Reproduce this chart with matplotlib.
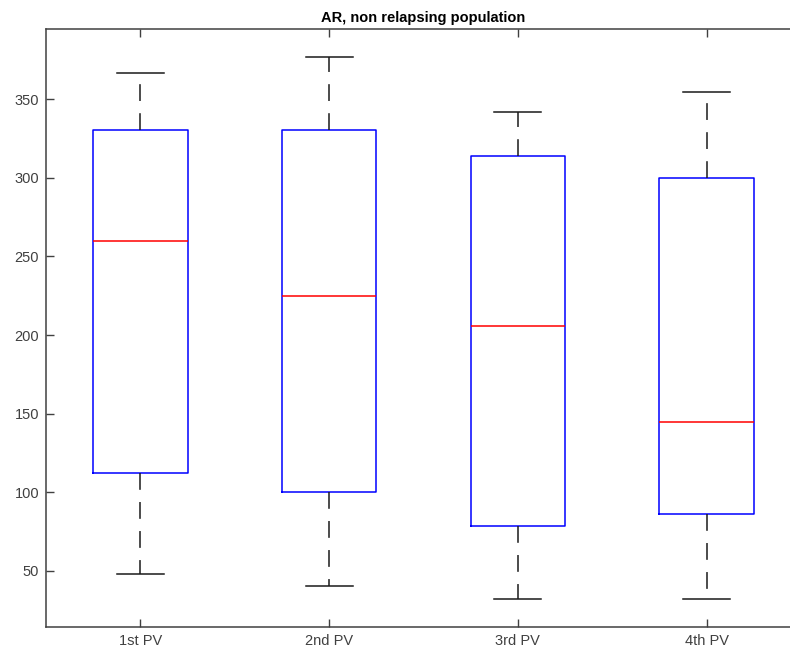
import matplotlib
matplotlib.use("Agg")
import matplotlib.pyplot as plt

plt.rcParams['font.family'] = ['Liberation Sans', 'DejaVu Sans']

labels = ["1st PV", "2nd PV", "3rd PV", "4th PV"]
whisker_low = [48, 40.5, 32, 32]
q1 = [112.5, 100.5, 78.5, 86]
median = [260, 225, 205.5, 145]
q3 = [330, 330, 314, 300]
whisker_high = [366.5, 376.5, 342, 354.5]

stats = []
for i in range(len(labels)):
    stats.append(dict(label=labels[i], whislo=whisker_low[i], q1=q1[i],
                      med=median[i], q3=q3[i], whishi=whisker_high[i], fliers=[]))

W, H = 790, 655
fig = plt.figure(figsize=(W / 100, H / 100), dpi=100)
ax = fig.add_axes([46 / W, (H - 627) / H, (801 - 46) / W, (627 - 29) / H])

ax.bxp(stats, widths=0.5, showfliers=False,
       boxprops=dict(color='#0000ff', linewidth=1.1),
       medianprops=dict(color='#ff0000', linewidth=1.1),
       whiskerprops=dict(color='#1a1a1a', linewidth=1.1, linestyle=(0, (11, 8))),
       capprops=dict(color='#1a1a1a', linewidth=1.1),
       capwidths=0.25)

ax.set_xlim(0.5, 4.5)
ax.set_ylim(14.4, 394.5)
ax.set_yticks([50, 100, 150, 200, 250, 300, 350])
ax.tick_params(direction='in', length=5.5, width=1, colors='#404040',
               labelsize=10.5, top=True, right=True)
ax.tick_params(axis='x', pad=5)
ax.tick_params(axis='y', pad=5)
for s in ax.spines.values():
    s.set_color('#404040')
    s.set_linewidth(1.1)
ax.set_title("AR, non relapsing population", fontsize=10.5, fontweight='bold', pad=5)

fig.savefig("out.png", dpi=100)
